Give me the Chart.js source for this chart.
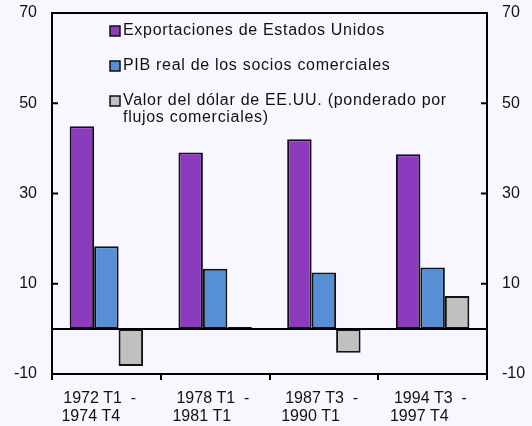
<!DOCTYPE html>
<html>
<head>
<meta charset="utf-8">
<script src="https://cdn.jsdelivr.net/npm/chart.js@4/dist/chart.umd.min.js"></script>
<style>
  html, body { margin: 0; padding: 0; background: #f8f6fe; }
  #wrap { width: 532px; height: 426px; position: relative; }
</style>
</head>
<body>
<div id="wrap"><canvas id="chart" width="532" height="426"></canvas></div>
<script>
  // trailing spaces keep the two label lines left-aligned like the original
  const categories = [["1972 T1  -   ", "1974 T4       "], ["1978 T1  - ", "1981 T1      "], ["1987 T3  - ", "1990 T1      "], ["1994 T3  - ", "1997 T4      "]];
  const exportaciones = [44.9, 39.1, 42.0, 38.7];
  const pibSocios = [18.3, 13.3, 12.5, 13.6];
  const valorDolar = [-8.2, 0.4, -5.3, 7.3];
  const yTicks = [-10, 10, 30, 50, 70];
  const legendLines = [["Exportaciones de Estados Unidos"], ["PIB real de los socios comerciales"], ["Valor del dólar de EE.UU. (ponderado por", "flujos comerciales)"]];

  const FONT = "'Liberation Sans', Arial, sans-serif";
  const COLORS = ["#8c3bbf", "#568fd6", "#c0c0c0"];

  // box, zero line, inward y ticks and the legend
  const decor = {
    id: "decor",
    afterDatasetsDraw(chart) {
      const { ctx, chartArea: a, scales } = chart;
      const y = scales.y;
      ctx.save();
      ctx.strokeStyle = "#000"; ctx.lineWidth = 2;
      ctx.beginPath();
      ctx.moveTo(a.left, a.top); ctx.lineTo(a.right, a.top);
      const z = y.getPixelForValue(0);
      ctx.moveTo(a.left, z); ctx.lineTo(a.right, z);
      yTicks.forEach(v => {
        const p = y.getPixelForValue(v);
        ctx.moveTo(a.left, p); ctx.lineTo(a.left + 6, p);
        ctx.moveTo(a.right, p); ctx.lineTo(a.right - 6, p);
      });
      ctx.stroke();

      ctx.font = "16px " + FONT; ctx.textBaseline = "middle";
      ctx.letterSpacing = "0.7px";
      let ly = a.top + 18;
      legendLines.forEach((lines, i) => {
        ctx.fillStyle = COLORS[i];
        ctx.fillRect(a.left + 58, ly - 5, 10, 10);
        ctx.lineWidth = 1.5; ctx.strokeStyle = "#111";
        ctx.strokeRect(a.left + 58, ly - 5, 10, 10);
        ctx.fillStyle = "#111";
        lines.forEach((t, j) => ctx.fillText(t, a.left + 71, ly + j * 17));
        ly += 35;
      });
      ctx.restore();
    }
  };

  const ds = (label, data, i) => ({ label, data, backgroundColor: COLORS[i], borderColor: "#111", borderWidth: 2, borderSkipped: false, barPercentage: 1, categoryPercentage: 0.675 });
  const tickFont = { family: FONT, size: 16, lineHeight: 1.15 };
  const fitY = w => s => { s.width = w; s.paddingTop = 0; s.paddingBottom = 0; };

  new Chart(document.getElementById("chart"), {
    type: "bar",
    data: {
      labels: categories,
      datasets: [
        ds(legendLines[0].join(" "), exportaciones, 0),
        ds(legendLines[1].join(" "), pibSocios, 1),
        ds(legendLines[2].join(" "), valorDolar, 2),
      ]
    },
    options: {
      responsive: false, animation: false, devicePixelRatio: 1,
      layout: { padding: { top: 13, left: 0, right: 0, bottom: 0 } },
      plugins: { legend: { display: false }, tooltip: { enabled: false } },
      scales: {
        x: {
          grid: { display: true, drawOnChartArea: false, drawTicks: true, tickLength: 6, tickColor: "#000", lineWidth: 2, offset: true },
          border: { color: "#000", width: 2 },
          ticks: { color: "#111", font: tickFont, padding: 9, maxRotation: 0, autoSkip: false },
          afterFit: s => { s.height = 52; s.paddingLeft = 0; s.paddingRight = 0; }
        },
        y: {
          position: "left", min: -10, max: 70,
          grid: { display: false, drawTicks: false },
          border: { color: "#000", width: 2 },
          ticks: { stepSize: 20, color: "#111", font: tickFont, padding: 15 },
          afterBuildTicks: s => { s.ticks = yTicks.map(v => ({ value: v })); },
          afterFit: fitY(52)
        },
        y2: {
          position: "right", min: -10, max: 70,
          grid: { display: false, drawTicks: false },
          border: { color: "#000", width: 2 },
          ticks: { stepSize: 20, color: "#111", font: tickFont, padding: 15 },
          afterBuildTicks: s => { s.ticks = yTicks.map(v => ({ value: v })); },
          afterFit: fitY(45)
        }
      }
    },
    plugins: [decor]
  });
</script>
</body>
</html>
